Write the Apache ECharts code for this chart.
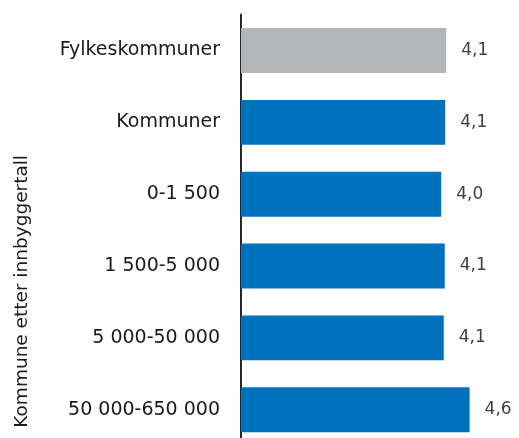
<!DOCTYPE html>
<html>
<head>
<meta charset="utf-8">
<script src="https://cdn.jsdelivr.net/npm/echarts@6/dist/echarts.min.js"></script>
<style>html,body{margin:0;padding:0;background:#fff}#c{width:519px;height:438px}</style>
</head>
<body>
<div id="c"></div>
<script>
var categories = ['Fylkeskommuner', 'Kommuner', '0-1 500', '1 500-5 000', '5 000-50 000', '50 000-650 000'];
var values = [4.13, 4.11, 4.03, 4.10, 4.08, 4.60];
var axisName = 'Kommune etter innbyggertall';

var FONT = 'DejaVu Sans';
var chart = echarts.init(document.getElementById('c'), null, {renderer: 'canvas'});
var data = values.map(function (v, i) {
  return {value: v, itemStyle: {color: i === 0 ? '#B4B5B7' : '#0071BC'}};
});
chart.setOption({
  animation: false,
  grid: {left: 241, top: 14.6, height: 431, width: 273.3, outerBoundsMode: 'none', containLabel: false},
  xAxis: {type: 'value', min: 0, max: 5.5, show: false},
  yAxis: {
    type: 'category', data: categories, inverse: true,
    axisLine: {show: true, lineStyle: {color: '#262626', width: 2}},
    axisTick: {show: false},
    axisLabel: {color: '#1a1a1a', fontSize: 19, fontFamily: FONT, margin: 21}
  },
  series: [{
    type: 'bar', data: data, barCategoryGap: '37.5%',
    label: {
      show: true, position: 'right', distance: 15,
      color: '#404040', fontSize: 17, fontFamily: FONT,
      formatter: function (p) { return p.value.toFixed(1).replace('.', ','); }
    }
  }],
  graphic: [{
    type: 'text', left: 13, top: 155, rotation: Math.PI / 2,
    style: {text: axisName, fontSize: 18.5, fontFamily: FONT, fill: '#1a1a1a'}
  }]
});
</script>
</body>
</html>
